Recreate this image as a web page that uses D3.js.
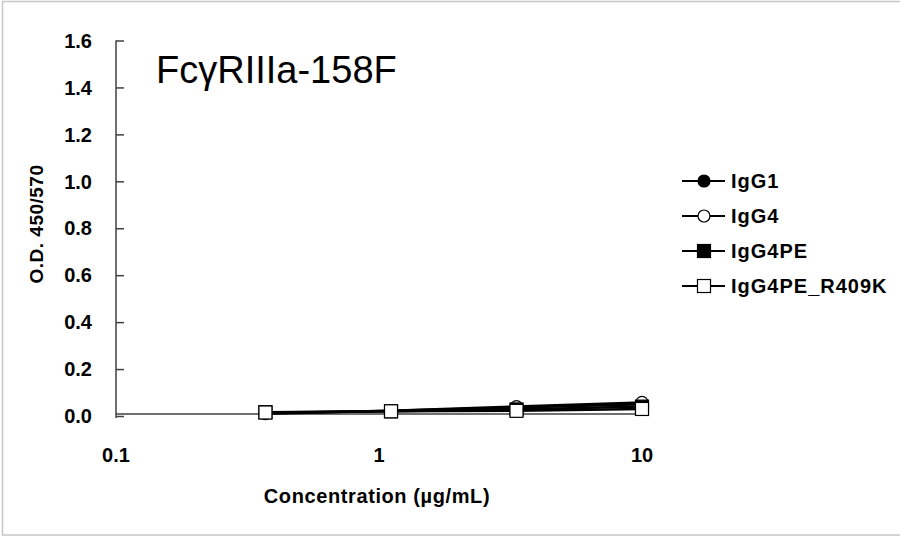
<!DOCTYPE html>
<html>
<head>
<meta charset="utf-8">
<script src="https://cdn.jsdelivr.net/npm/d3@7"></script>
<style>
body { margin: 0; background: #fff; }
text { font-family: Arial, "Liberation Sans", sans-serif; fill: #000; }
</style>
</head>
<body>
<svg id="chart"></svg>
<script>
var concentrations = [0.370, 1.111, 3.333, 10];
var seriesNames = ["IgG1", "IgG4", "IgG4PE", "IgG4PE_R409K"];
var igg1Values = [0.010, 0.022, 0.036, 0.050];
var igg4Values = [0.012, 0.022, 0.040, 0.058];
var igg4peValues = [0.016, 0.020, 0.028, 0.040];
var r409kValues = [0.015, 0.020, 0.022, 0.030];
var yTicks = [0, 0.2, 0.4, 0.6, 0.8, 1.0, 1.2, 1.4, 1.6];
var xTicks = [0.1, 1, 10];

var series = [
    {name: seriesNames[0], values: igg1Values, shape: "circle", fill: "#000"},
    {name: seriesNames[1], values: igg4Values, shape: "circle", fill: "#fff"},
    {name: seriesNames[2], values: igg4peValues, shape: "square", fill: "#000"},
    {name: seriesNames[3], values: r409kValues, shape: "square", fill: "#fff"}
];

var svg = d3.select("#chart")
    .attr("width", 900)
    .attr("height", 536);

// outer frame
svg.append("rect")
    .attr("x", 2.5).attr("y", 1.5)
    .attr("width", 905).attr("height", 533.5)
    .attr("fill", "none")
    .attr("stroke", "#c6c6c6")
    .attr("stroke-width", 1.5);

var xScale = d3.scaleLog().domain([0.1, 10]).range([116, 642]);
var yScale = d3.scaleLinear().domain([0, 1.6]).range([416, 40.5]);

// y axis, ticks point inward
var yAxis = svg.append("g")
    .attr("transform", "translate(116,0)")
    .call(d3.axisRight(yScale).tickValues(yTicks).tickSize(8).tickFormat(""));
yAxis.select(".domain").remove();
yAxis.selectAll("line").attr("stroke", "#404040").attr("stroke-width", 1.5);
svg.append("line")
    .attr("x1", 116).attr("x2", 116)
    .attr("y1", yScale(1.6)).attr("y2", yScale(0) + 2)
    .attr("stroke", "#404040").attr("stroke-width", 1.5);

svg.selectAll(".ylab")
    .data(yTicks)
    .enter().append("text")
    .attr("class", "ylab")
    .attr("x", 92)
    .attr("y", d => yScale(d))
    .attr("dy", "0.36em")
    .attr("text-anchor", "end")
    .attr("font-weight", "bold")
    .attr("font-size", 20)
    .text(d => d3.format(".1f")(d));

// x axis
svg.append("line")
    .attr("x1", xScale(0.1)).attr("x2", xScale(10))
    .attr("y1", yScale(0) - 2).attr("y2", yScale(0) - 2)
    .attr("stroke", "#404040").attr("stroke-width", 1.5);

svg.selectAll(".xlab")
    .data(xTicks)
    .enter().append("text")
    .attr("class", "xlab")
    .attr("x", d => xScale(d))
    .attr("y", 462)
    .attr("text-anchor", "middle")
    .attr("font-weight", "bold")
    .attr("font-size", 20)
    .text(d => d3.format("~g")(d));

svg.append("text")
    .attr("x", 377).attr("y", 503)
    .attr("text-anchor", "middle")
    .attr("font-weight", "bold")
    .attr("font-size", 20)
    .attr("letter-spacing", 0.6)
    .text("Concentration (\u00b5g/mL)");

svg.append("text")
    .attr("transform", "translate(43,224) rotate(-90)")
    .attr("text-anchor", "middle")
    .attr("font-weight", "bold")
    .attr("font-size", 19)
    .attr("letter-spacing", 0.5)
    .text("O.D. 450/570");

svg.append("text")
    .attr("x", 156).attr("y", 83)
    .attr("font-size", 38)
    .text("Fc\u03b3RIIIa-158F");

function drawMarker(g, shape, fill, x, y) {
    if (shape === "circle") {
        g.append("circle")
            .attr("cx", x).attr("cy", y).attr("r", 6)
            .attr("fill", fill).attr("stroke", "#000").attr("stroke-width", 1.2);
    } else {
        g.append("rect")
            .attr("x", x - 6.5).attr("y", y - 6.5)
            .attr("width", 13).attr("height", 13)
            .attr("fill", fill).attr("stroke", "#000").attr("stroke-width", 1.2);
    }
}

var line = d3.line()
    .x(d => xScale(d[0]))
    .y(d => yScale(d[1]));

series.forEach(function(s) {
    var pts = concentrations.map((c, i) => [c, s.values[i]]);
    var g = svg.append("g");
    g.append("path")
        .attr("d", line(pts))
        .attr("fill", "none")
        .attr("stroke", "#000")
        .attr("stroke-width", 2.5);
    pts.forEach(p => drawMarker(g, s.shape, s.fill, xScale(p[0]), yScale(p[1])));
});

// legend
var legendY = d3.scalePoint().domain(seriesNames).range([181, 286]);
series.forEach(function(s) {
    var y = legendY(s.name);
    var g = svg.append("g");
    g.append("line")
        .attr("x1", 682).attr("x2", 725)
        .attr("y1", y).attr("y2", y)
        .attr("stroke", "#000").attr("stroke-width", 2);
    drawMarker(g, s.shape, s.fill, 704, y);
    g.append("text")
        .attr("x", 731).attr("y", y)
        .attr("dy", "0.36em")
        .attr("font-weight", "bold")
        .attr("font-size", 20)
        .attr("letter-spacing", 1)
        .text(s.name);
});
</script>
</body>
</html>
